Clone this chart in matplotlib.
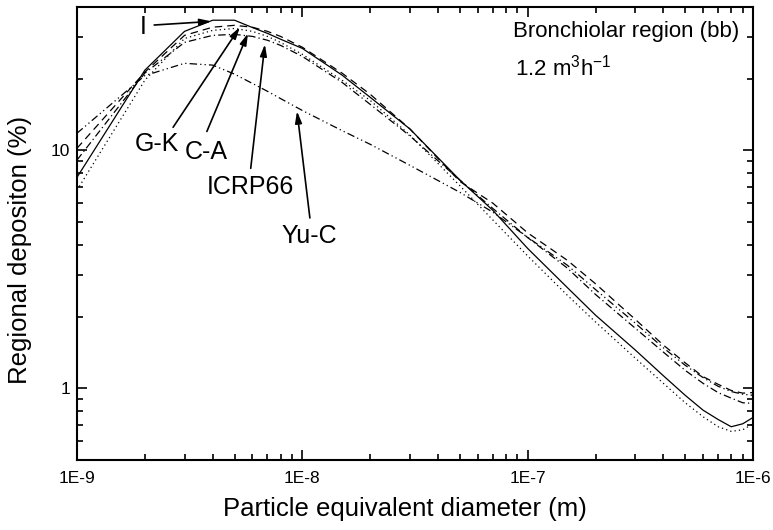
import numpy as np
import matplotlib
matplotlib.use('Agg')
from matplotlib import pyplot as plt
from matplotlib.ticker import LogLocator, NullFormatter

plt.rcParams['font.family'] = ['Liberation Sans', 'DejaVu Sans']
plt.rcParams['mathtext.default'] = 'regular'

# particle diameter (m)
d = [1e-9, 2e-9, 3e-9, 4e-9, 5e-9, 6e-9, 7e-9, 8e-9, 1e-8, 1.5e-8, 2e-8, 3e-8,
     5e-8, 7e-8, 1e-7, 1.5e-7, 2e-7, 3e-7, 4e-7, 5e-7, 6e-7, 7e-7, 8e-7, 9e-7, 1e-6]

# regional deposition (%) in the bronchiolar region
dep_I = [7.7, 21.7, 31.6, 35.2, 35.2, 32.8, 31.0, 29.3, 26.8, 20.7, 16.7, 12.3,
         7.5, 5.6, 3.87, 2.65, 2.03, 1.45, 1.13, 0.935, 0.81, 0.74, 0.69, 0.71, 0.755]
dep_GK = [10.2, 21.3, 30.4, 32.9, 33.5, 32.9, 31.6, 30.1, 27.1, 21.1, 17.2, 12.3,
          7.4, 6.0, 4.5, 3.45, 2.75, 1.95, 1.52, 1.28, 1.12, 1.04, 0.98, 0.955, 0.96]
dep_CA = [6.8, 19.7, 29.5, 31.9, 32.5, 31.6, 30.1, 28.4, 25.3, 19.7, 16.2, 11.6,
          7.1, 5.1, 3.6, 2.46, 1.9, 1.34, 1.05, 0.87, 0.76, 0.69, 0.66, 0.67, 0.71]
dep_ICRP = [9.1, 21.1, 28.4, 30.4, 30.7, 30.1, 29.0, 27.6, 24.8, 19.3, 15.6, 11.5,
            7.5, 5.7, 4.3, 3.2, 2.48, 1.79, 1.42, 1.19, 1.05, 0.96, 0.91, 0.87, 0.865]
dep_YuC = [11.8, 20.6, 23.2, 22.8, 20.9, 19.1, 17.7, 16.5, 14.7, 12.1, 10.6, 8.65,
           6.66, 5.5, 4.31, 3.29, 2.6, 1.88, 1.48, 1.25, 1.11, 1.02, 0.97, 0.945, 0.935]

x_ticks = [1e-9, 1e-8, 1e-7, 1e-6]
y_ticks = [1, 10]

fig = plt.figure(figsize=(7.73, 5.30), dpi=100)
fig.set_facecolor('white')
ax = fig.add_axes([0.0996, 0.132, 0.8746, 0.8548])

lw = 0.9
ax.plot(d, dep_I, color='black', lw=lw, linestyle='-')
ax.plot(d, dep_GK, color='black', lw=lw, linestyle=(0, (6, 4)))
ax.plot(d, dep_CA, color='black', lw=lw, linestyle=(0, (1, 2.5)))
ax.plot(d, dep_ICRP, color='black', lw=lw, linestyle=(0, (6, 2.5, 1, 2.5)))
ax.plot(d, dep_YuC, color='black', lw=lw, linestyle=(0, (6, 2.5, 1, 2.5, 1, 2.5)))

ax.set_xscale('log')
ax.set_yscale('log')

ax.set_xticks(x_ticks)
ax.set_xticklabels(['1E%d' % round(np.log10(v)) for v in x_ticks])
ax.xaxis.set_minor_locator(LogLocator(base=10, subs=np.arange(2, 10), numticks=20))
ax.xaxis.set_minor_formatter(NullFormatter())
ax.set_yticks(y_ticks)
ax.set_yticklabels(['%g' % v for v in y_ticks])
ax.yaxis.set_minor_locator(LogLocator(base=10, subs=np.arange(2, 10), numticks=20))
ax.yaxis.set_minor_formatter(NullFormatter())
ax.set_xlim(1e-9, 1e-6)
ax.set_ylim(0.5, 40)

ax.tick_params(which='both', direction='in', top=True, right=True, labelsize=12.5, width=1.2)
ax.tick_params(which='major', length=7)
ax.tick_params(axis='x', which='major', pad=8)
ax.tick_params(axis='y', which='major', pad=5)
ax.tick_params(which='minor', length=4)
for s in ax.spines.values():
    s.set_linewidth(1.5)

ax.set_xlabel('Particle equivalent diameter (m)', fontsize=18.5)
ax.set_ylabel('Regional depositon (%)', fontsize=18.5)
ax.xaxis.set_label_coords(0.485, -0.082)
ax.yaxis.set_label_coords(-0.066, 0.464)

ax.text(0.645, 0.945, 'Bronchiolar region (bb)', transform=ax.transAxes, fontsize=16, va='center')
ax.text(0.648, 0.867, '1.2 m$^3$h$^{-1}$', transform=ax.transAxes, fontsize=16, va='center')

# labels with arrows: (text, text position, arrow tail, arrow head)
labels = [
    ('I', (1.96e-9, 32.9), (2.2e-9, 33.6), (3.95e-9, 34.8)),
    ('G-K', (2.26e-9, 10.6), (2.67e-9, 12.5), (5.28e-9, 32.9)),
    ('C-A', (3.75e-9, 9.8), (3.77e-9, 12.0), (5.74e-9, 31.0)),
    ('ICRP66', (5.86e-9, 7.0), (5.9e-9, 8.4), (6.82e-9, 27.9)),
    ('Yu-C', (1.07e-8, 4.35), (1.08e-8, 5.2), (9.47e-9, 14.6)),
]
for name, tpos, tail, head in labels:
    ax.text(tpos[0], tpos[1], name, fontsize=18, ha='center', va='center')
    ax.annotate('', xy=head, xytext=tail,
                arrowprops=dict(arrowstyle='-|>,head_length=0.7,head_width=0.2',
                                color='black', lw=1.2, shrinkA=0, shrinkB=0))

fig.savefig('out.png', dpi=100)
